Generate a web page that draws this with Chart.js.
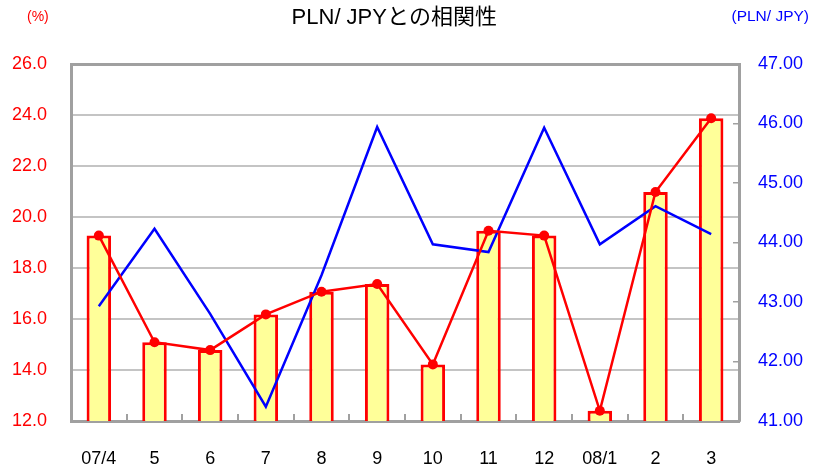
<!DOCTYPE html>
<html>
<head>
<meta charset="utf-8">
<script src="https://cdn.jsdelivr.net/npm/chart.js@4/dist/chart.umd.min.js"></script>
<style>
  html, body { margin: 0; padding: 0; background: #ffffff; }
  #wrap { position: relative; width: 813px; height: 469px; }
  .corner { position: absolute; top: 6px; font-family: "Liberation Sans", Arial, sans-serif; line-height: 20px; }
  #lu { left: 27px; color: #ff0000; font-size: 14px; }
  #ru { right: 4px; color: #0000ff; font-size: 15.5px; }
</style>
</head>
<body>
<div id="wrap">
  <canvas id="c" width="813" height="469"></canvas>
  <div class="corner" id="lu">(%)</div>
  <div class="corner" id="ru">(PLN/ JPY)</div>
</div>
<script>
const categories = ["07/4", "5", "6", "7", "8", "9", "10", "11", "12", "08/1", "2", "3"];
const correlation = [19.27, 15.09, 14.78, 16.18, 17.07, 17.37, 14.22, 19.46, 19.27, 12.40, 20.98, 23.87];
const plnJpy = [42.93, 44.23, 42.80, 41.24, 43.45, 45.94, 43.97, 43.84, 45.93, 43.97, 44.61, 44.14];
const leftTicks = { min: 12, max: 26, step: 2 };
const rightTicks = { min: 41, max: 47, step: 1 };

const FONT = '"Liberation Sans", Arial, "Noto Sans CJK JP", sans-serif';

new Chart(document.getElementById('c'), {
  type: 'bar',
  data: {
    labels: categories,
    datasets: [
      {
        type: 'line',
        label: 'corr-line',
        data: correlation,
        yAxisID: 'y',
        borderColor: '#ff0000',
        backgroundColor: '#ff0000',
        borderWidth: 2.5,
        pointRadius: 5,
        pointBorderWidth: 0,
        pointBackgroundColor: '#ff0000',
        tension: 0,
        order: 1
      },
      {
        type: 'line',
        label: 'PLN/JPY',
        data: plnJpy,
        yAxisID: 'y2',
        borderColor: '#0000ff',
        borderWidth: 2.5,
        pointRadius: 0,
        tension: 0,
        order: 2
      },
      {
        type: 'bar',
        label: 'corr',
        data: correlation,
        yAxisID: 'y',
        backgroundColor: '#ffff99',
        borderColor: '#ff0000',
        borderWidth: 3,
        borderSkipped: false,
        categoryPercentage: 1,
        barPercentage: 0.44,
        order: 3
      }
    ]
  },
  options: {
    responsive: false,
    animation: false,
    events: [],
    layout: { padding: 0 },
    plugins: {
      legend: { display: false },
      tooltip: { enabled: false },
      title: {
        display: true,
        text: 'PLN/ JPYとの相関性    ',
        color: '#000000',
        font: { family: FONT, size: 22, weight: 'normal', lineHeight: 1.2 },
        padding: { top: 5, bottom: 32.6 }
      }
    },
    scales: {
      x: {
        position: 'bottom',
        offset: true,
        grid: {
          display: true,
          offset: true,
          drawOnChartArea: false,
          drawTicks: true,
          tickLength: -7,
          color: '#a0a0a0',
          lineWidth: 2
        },
        border: { display: true, color: '#a0a0a0', width: 3 },
        ticks: {
          color: '#000000',
          font: { family: FONT, size: 18 },
          padding: 34,
          maxRotation: 0,
          autoSkip: false
        },
        afterFit: (s) => { s.height = 48; }
      },
      y: {
        position: 'left',
        min: leftTicks.min,
        max: leftTicks.max,
        grid: {
          drawTicks: false,
          color: (ctx) => (ctx.tick && ctx.tick.value === leftTicks.max) ? '#a0a0a0' : '#c4c4c4',
          lineWidth: (ctx) => (ctx.tick && ctx.tick.value === leftTicks.max) ? 3 : 2
        },
        border: { display: true, color: '#a0a0a0', width: 3 },
        ticks: {
          stepSize: leftTicks.step,
          color: '#ff0000',
          font: { family: FONT, size: 18 },
          padding: 24,
          callback: (v) => Number(v).toFixed(1)
        },
        afterFit: (s) => { s.width = 71; }
      },
      y2: {
        position: 'right',
        min: rightTicks.min,
        max: rightTicks.max,
        grid: {
          drawOnChartArea: false,
          drawTicks: true,
          tickLength: -6,
          color: '#a0a0a0',
          lineWidth: 1.5
        },
        border: { display: true, color: '#a0a0a0', width: 3 },
        ticks: {
          stepSize: rightTicks.step,
          color: '#0000ff',
          font: { family: FONT, size: 18 },
          padding: 25,
          callback: (v) => Number(v).toFixed(2)
        },
        afterFit: (s) => { s.width = 74; }
      }
    }
  }
});
</script>
</body>
</html>
